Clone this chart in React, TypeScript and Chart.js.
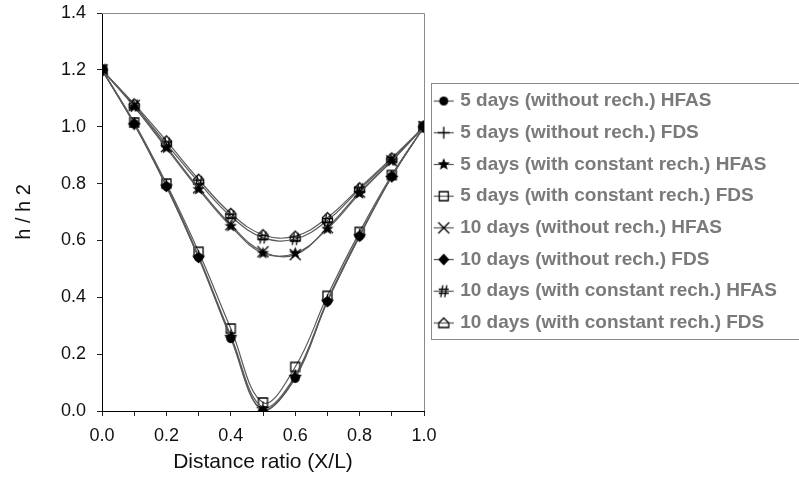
import React, { useEffect, useRef } from 'react';
import { Chart, registerables } from 'chart.js';
Chart.register(...registerables);

const xRatio = [0, 0.1, 0.2, 0.3, 0.4, 0.5, 0.6, 0.7, 0.8, 0.9, 1.0];

const d5NoRechHFAS = [1.2, 1.01, 0.79, 0.54, 0.255, 0.0, 0.115, 0.385, 0.615, 0.825, 1.0];
const d5NoRechFDS = [1.2, 1.01, 0.795, 0.545, 0.265, 0.012, 0.125, 0.39, 0.62, 0.825, 1.0];
const d5RechHFAS = [1.2, 1.07, 0.925, 0.78, 0.65, 0.555, 0.555, 0.64, 0.765, 0.88, 1.0];
const d5RechFDS = [1.2, 1.015, 0.8, 0.56, 0.29, 0.03, 0.155, 0.405, 0.63, 0.83, 1.0];
const d10NoRechHFAS = [1.2, 1.075, 0.93, 0.785, 0.655, 0.56, 0.55, 0.645, 0.77, 0.88, 1.0];
const d10NoRechFDS = [1.2, 1.01, 0.79, 0.54, 0.26, 0.0, 0.12, 0.385, 0.615, 0.825, 1.0];
const d10RechHFAS = [1.2, 1.075, 0.94, 0.805, 0.685, 0.61, 0.605, 0.67, 0.78, 0.885, 1.0];
const d10RechFDS = [1.2, 1.08, 0.95, 0.815, 0.695, 0.62, 0.615, 0.68, 0.785, 0.89, 1.0];

const seriesLabels = [
  '5 days (without rech.) HFAS',
  '5 days (without rech.) FDS',
  '5 days (with constant rech.) HFAS',
  '5 days (with constant rech.) FDS',
  '10 days (without rech.) HFAS',
  '10 days (without rech.) FDS',
  '10 days (with constant rech.) HFAS',
  '10 days (with constant rech.) FDS',
];
const seriesValues = [
  d5NoRechHFAS, d5NoRechFDS, d5RechHFAS, d5RechFDS,
  d10NoRechHFAS, d10NoRechFDS, d10RechHFAS, d10RechFDS,
];
const markerKinds = ['circle', 'plus', 'star', 'square', 'xcross', 'diamond', 'hash', 'house'];

const yTicks = [0, 0.2, 0.4, 0.6, 0.8, 1.0, 1.2, 1.4];

type Ctx = CanvasRenderingContext2D;

function drawMarker(ctx: Ctx, kind: string, cx: number, cy: number) {
  ctx.fillStyle = '#000';
  ctx.strokeStyle = '#000';
  ctx.lineWidth = 1.3;
  ctx.beginPath();
  switch (kind) {
    case 'circle':
      ctx.arc(cx, cy, 4.5, 0, Math.PI * 2);
      ctx.fill();
      break;
    case 'plus':
      ctx.moveTo(cx - 6, cy); ctx.lineTo(cx + 6, cy);
      ctx.moveTo(cx, cy - 6); ctx.lineTo(cx, cy + 6);
      ctx.stroke();
      break;
    case 'star': {
      for (let i = 0; i < 10; i++) {
        const r = i % 2 === 0 ? 6.5 : 2.8;
        const a = -Math.PI / 2 + (i * Math.PI) / 5;
        const px = cx + r * Math.cos(a);
        const py = cy + r * Math.sin(a);
        if (i === 0) ctx.moveTo(px, py); else ctx.lineTo(px, py);
      }
      ctx.closePath();
      ctx.fill();
      break;
    }
    case 'square':
      ctx.rect(cx - 4.5, cy - 4.5, 9, 9);
      ctx.stroke();
      break;
    case 'xcross':
      ctx.moveTo(cx - 5.5, cy - 5.5); ctx.lineTo(cx + 5.5, cy + 5.5);
      ctx.moveTo(cx + 5.5, cy - 5.5); ctx.lineTo(cx - 5.5, cy + 5.5);
      ctx.stroke();
      break;
    case 'diamond':
      ctx.moveTo(cx, cy - 6); ctx.lineTo(cx + 5.5, cy); ctx.lineTo(cx, cy + 6); ctx.lineTo(cx - 5.5, cy);
      ctx.closePath();
      ctx.fill();
      break;
    case 'hash':
      ctx.moveTo(cx - 1, cy - 6); ctx.lineTo(cx - 3, cy + 6);
      ctx.moveTo(cx + 3, cy - 6); ctx.lineTo(cx + 1, cy + 6);
      ctx.moveTo(cx - 5, cy - 2); ctx.lineTo(cx + 5, cy - 2);
      ctx.moveTo(cx - 5, cy + 2); ctx.lineTo(cx + 5, cy + 2);
      ctx.stroke();
      break;
    case 'house':
      ctx.moveTo(cx - 5, cy + 4.5); ctx.lineTo(cx + 5, cy + 4.5); ctx.lineTo(cx + 5, cy);
      ctx.lineTo(cx, cy - 5); ctx.lineTo(cx - 5, cy);
      ctx.closePath();
      ctx.stroke();
      break;
  }
}

function makeMarker(kind: string, withLine: boolean) {
  const c = document.createElement('canvas');
  const w = withLine ? 22 : 15;
  const h = 15;
  c.width = w; c.height = h;
  const ctx = c.getContext('2d') as Ctx;
  if (withLine) {
    ctx.strokeStyle = '#555';
    ctx.lineWidth = 1.2;
    ctx.beginPath();
    ctx.moveTo(1, h / 2); ctx.lineTo(w - 1, h / 2);
    ctx.stroke();
  }
  drawMarker(ctx, kind, w / 2, h / 2);
  return c;
}

const LEGEND_W = 375;

const framePlugin = {
  id: 'frameAndLegendBox',
  afterInit(chart: any) {
    const lg = chart.legend;
    if (lg) {
      const orig = lg.fit.bind(lg);
      lg.fit = () => { orig(); lg.width = LEGEND_W; };
    }
  },
  afterDraw(chart: any) {
    const { ctx, chartArea } = chart;
    const { top, right, left, bottom } = chartArea;
    ctx.save();
    ctx.strokeStyle = '#8a8a8a';
    ctx.lineWidth = 1;
    ctx.beginPath();
    ctx.moveTo(left, Math.round(top) + 0.5);
    ctx.lineTo(Math.round(right) + 0.5, Math.round(top) + 0.5);
    ctx.lineTo(Math.round(right) + 0.5, bottom);
    ctx.stroke();
    const lg = chart.legend;
    const hb = lg && lg.legendHitBoxes;
    if (hb && hb.length) {
      const first = hb[0];
      const last = hb[hb.length - 1];
      const y0 = Math.round(first.top + first.height / 2 - 18) + 0.5;
      const y1 = Math.round(last.top + last.height / 2 + 16) + 0.5;
      ctx.strokeStyle = '#8a8a8a';
      ctx.strokeRect(Math.round(lg.left + 7) + 0.5, y0, 900, y1 - y0);
    }
    ctx.restore();
  },
};

export default function App() {
  const ref = useRef<HTMLCanvasElement | null>(null);
  useEffect(() => {
    if (!ref.current) return;
    const legendMarkers = markerKinds.map((k) => makeMarker(k, true));
    const datasets = seriesLabels.map((label, i) => ({
      label,
      data: xRatio.map((x, j) => ({ x, y: seriesValues[i][j] })),
      showLine: true,
      borderColor: '#5a5a5a',
      borderWidth: 1.2,
      tension: 0.4,
      pointStyle: makeMarker(markerKinds[i], false) as any,
      pointRadius: 6,
      backgroundColor: '#000',
    }));
    const family = "'Liberation Sans', Arial, sans-serif";
    const chart = new Chart(ref.current, {
      type: 'scatter',
      data: { datasets },
      plugins: [framePlugin as any],
      options: {
        animation: false,
        responsive: true,
        maintainAspectRatio: false,
        events: [],
        layout: { padding: { top: 13, right: 0, left: 0, bottom: 0 } },
        plugins: {
          tooltip: { enabled: false },
          legend: {
            position: 'right',
            align: 'center',
            fullSize: false,
            labels: {
              usePointStyle: true,
              pointStyleWidth: 14,
              padding: 12.7,
              color: '#7a7a7a',
              font: { family, size: 19, weight: 'bold' },
              generateLabels: (ch: any) =>
                ch.data.datasets.map((ds: any, i: number) => ({
                  text: ds.label,
                  pointStyle: legendMarkers[i],
                  fillStyle: '#000',
                  strokeStyle: '#000',
                  lineWidth: 0,
                  hidden: false,
                  datasetIndex: i,
                  fontColor: '#7a7a7a',
                })),
            },
          },
        },
        scales: {
          x: {
            type: 'linear',
            min: 0,
            max: 1,
            afterFit: (s: any) => { s.height = 72; s.paddingLeft = 0; s.paddingRight = 0; },
            border: { display: true, color: '#000', width: 1 },
            grid: { drawOnChartArea: false, drawTicks: true, tickLength: 5, color: '#222' },
            ticks: {
              stepSize: 0.1,
              autoSkip: false,
              maxRotation: 0,
              padding: 9,
              color: '#111',
              font: { family, size: 18 },
              callback: (v: any) => {
                const r = Math.round(Number(v) * 10);
                return r % 2 === 0 ? (r / 10).toFixed(1) : '';
              },
            },
            title: {
              display: true,
              text: 'Distance ratio (X/L)',
              color: '#111',
              font: { family, size: 21 },
              padding: { top: 4, bottom: 8 },
            },
          },
          y: {
            type: 'linear',
            min: yTicks[0],
            max: yTicks[yTicks.length - 1],
            afterFit: (s: any) => { s.width = 102; s.paddingTop = 0; s.paddingBottom = 0; },
            afterBuildTicks: (s: any) => { s.ticks = yTicks.map((v) => ({ value: v })); },
            border: { display: true, color: '#000', width: 1 },
            grid: { drawOnChartArea: false, drawTicks: true, tickLength: 5, color: '#222' },
            ticks: {
              padding: 11,
              color: '#111',
              font: { family, size: 18 },
              callback: (v: any) => Number(v).toFixed(1),
            },
            title: {
              display: true,
              text: 'h / h 2',
              color: '#111',
              font: { family, size: 20 },
              padding: { top: 12, bottom: 4 },
            },
          },
        },
      } as any,
    });
    return () => chart.destroy();
  }, []);
  return (
    <div style={{ position: 'fixed', left: 0, top: 0, width: 799, height: 483, background: '#fff' }}>
      <canvas ref={ref} />
    </div>
  );
}
